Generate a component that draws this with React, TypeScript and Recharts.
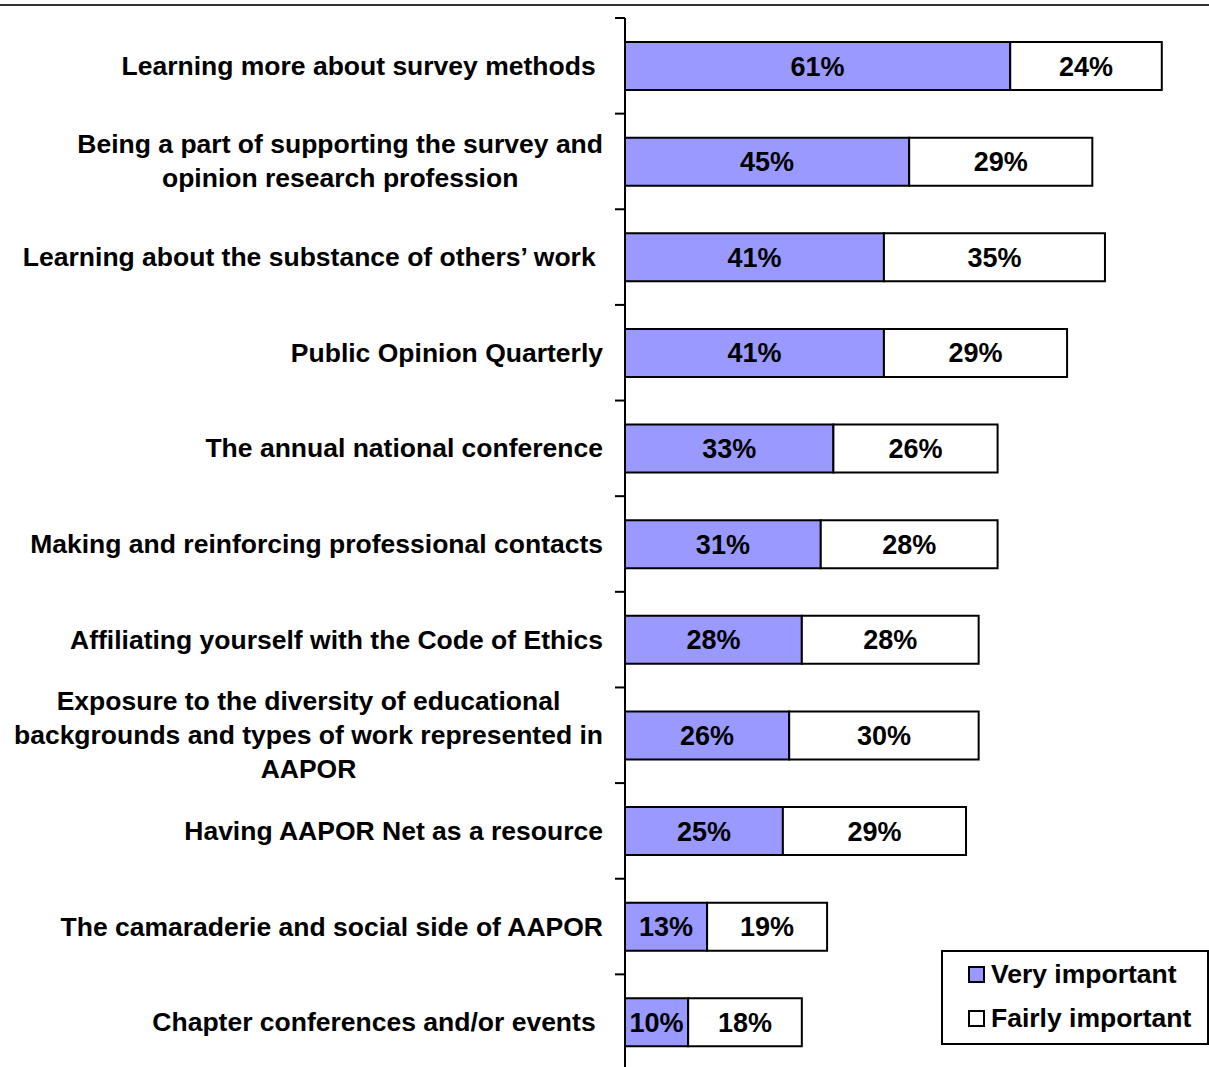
import { BarChart, Bar, XAxis, YAxis, LabelList, Legend } from 'recharts'

// Categories (\n = line break in the axis label, trailing nbsp kept from the source)
const categories = [
  'Learning more about survey methods\u00a0',
  'Being a part of supporting the survey and\nopinion research profession',
  'Learning about the substance of others\u2019 work\u00a0',
  'Public Opinion Quarterly',
  'The annual national conference',
  'Making and reinforcing professional contacts',
  'Affiliating yourself with the Code of Ethics',
  'Exposure to the diversity of educational\nbackgrounds and types of work represented in\nAAPOR',
  'Having AAPOR Net as a resource',
  'The camaraderie and social side of AAPOR',
  'Chapter conferences and/or events\u00a0',
]
const veryImportant = [61, 45, 41, 41, 33, 31, 28, 26, 25, 13, 10]
const fairlyImportant = [24, 29, 35, 29, 26, 28, 28, 30, 29, 19, 18]

const data = categories.map((name, i) => ({
  name,
  very: veryImportant[i],
  fairly: fairlyImportant[i],
}))

const FONT = '"Liberation Sans", Arial, sans-serif'
const CHART_W = 1209
const CHART_H = 1075
const MARGIN = { top: 18, right: 3, bottom: 5, left: 0 }
const BAND = (CHART_H - MARGIN.top - MARGIN.bottom) / categories.length

let ctx: CanvasRenderingContext2D | null = null
function textWidth(s: string) {
  if (!ctx) ctx = document.createElement('canvas').getContext('2d')
  if (!ctx) return s.length * 14
  ctx.font = `bold 26.5px ${FONT}`
  return ctx.measureText(s).width
}

// axis label, centred per line for the wrapped ones, plus a tick at the band edge
function CategoryTick({ x, y, payload, index }: any) {
  const lines = String(payload.value).split('\n')
  const right = x - 22
  const maxW = Math.max(...lines.map(textWidth))
  const lineH = 34
  const first = -((lines.length - 1) * lineH) / 2
  const tx = lines.length > 1 ? right - maxW / 2 : right
  return (
    <g>
      <line x1={x - 10} x2={x} y1={y - BAND / 2} y2={y - BAND / 2} stroke="#000" strokeWidth={2} />
      {index === categories.length - 1 && (
        <line x1={x - 10} x2={x} y1={y + BAND / 2} y2={y + BAND / 2} stroke="#000" strokeWidth={2} />
      )}
      <text
        x={tx}
        y={y}
        textAnchor={lines.length > 1 ? 'middle' : 'end'}
        fontFamily={FONT}
        fontWeight="bold"
        fontSize={26.5}
        fill="#000"
      >
        {lines.map((l, i) => (
          <tspan key={i} x={tx} y={y + first + i * lineH} dominantBaseline="central">
            {l}
          </tspan>
        ))}
      </text>
    </g>
  )
}

function LegendBox() {
  const items = [
    { label: 'Very important', color: '#9999ff' },
    { label: 'Fairly important', color: '#ffffff' },
  ]
  return (
    <div
      style={{
        width: 264,
        height: 91,
        border: '2px solid #000',
        background: '#fff',
        fontFamily: FONT,
        fontWeight: 'bold',
        fontSize: 26.5,
        color: '#000',
        boxSizing: 'content-box',
      }}
    >
      {items.map((it, i) => (
        <div
          key={it.label}
          style={{ position: 'absolute', left: 27, top: 8 + i * 44, height: 32, display: 'flex', alignItems: 'center' }}
        >
          <span
            style={{
              display: 'inline-block',
              width: 13,
              height: 13,
              background: it.color,
              border: '2px solid #000',
              marginRight: 6,
            }}
          />
          <span style={{ lineHeight: '32px' }}>{it.label}</span>
        </div>
      ))}
    </div>
  )
}

export default function App() {
  return (
    <div
      style={{
        position: 'absolute',
        left: 0,
        top: 0,
        width: 1209,
        height: 1067,
        overflow: 'hidden',
        background: '#fff',
      }}
    >
      <div style={{ position: 'absolute', left: 0, top: 4, width: 1209, height: 2, background: '#333' }} />
      <BarChart
        width={CHART_W}
        height={CHART_H}
        data={data}
        layout="vertical"
        margin={MARGIN}
        barSize={48}
      >
        <XAxis type="number" domain={[0, 92]} hide />
        <YAxis
          type="category"
          dataKey="name"
          width={625}
          axisLine={{ stroke: '#000', strokeWidth: 2 }}
          tickLine={false}
          tickSize={0}
          tickMargin={0}
          interval={0}
          tick={<CategoryTick />}
        />
        <Legend
          layout="vertical"
          align="center"
          verticalAlign="middle"
          wrapperStyle={{ left: 941, top: 950, width: 268, height: 95 }}
          content={() => <LegendBox />}
        />
        <Bar dataKey="very" name="Very important" stackId="a" fill="#9999ff" stroke="#000" strokeWidth={2} isAnimationActive={false}>
          <LabelList
            dataKey="very"
            position="center"
            formatter={(v: any) => `${v}%`}
            style={{ fontFamily: FONT, fontWeight: 'bold', fontSize: 27, fill: '#000' }}
          />
        </Bar>
        <Bar dataKey="fairly" name="Fairly important" stackId="a" fill="#ffffff" stroke="#000" strokeWidth={2} isAnimationActive={false}>
          <LabelList
            dataKey="fairly"
            position="center"
            formatter={(v: any) => `${v}%`}
            style={{ fontFamily: FONT, fontWeight: 'bold', fontSize: 27, fill: '#000' }}
          />
        </Bar>
      </BarChart>
    </div>
  )
}
